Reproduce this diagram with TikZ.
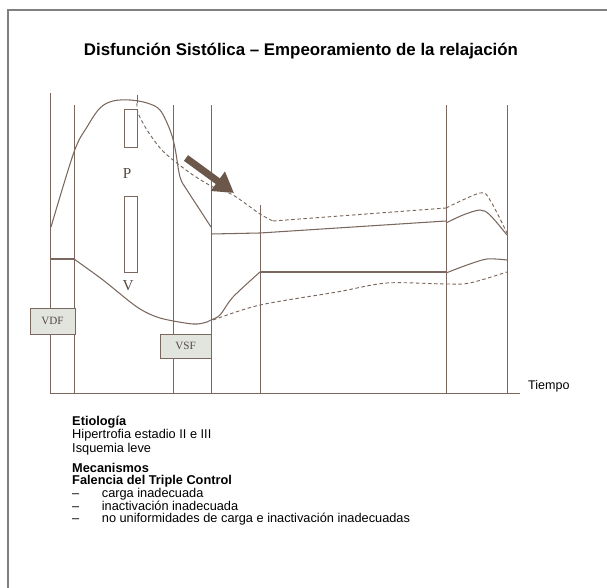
\documentclass[tikz,border=0pt]{standalone}
\usepackage{fontspec}
\setmainfont{Liberation Sans}
\newfontfamily\timesfont{Liberation Serif}
\usepackage{tikz}
\usetikzlibrary{positioning}
\usetikzlibrary{arrows.meta}

\definecolor{LineBrown}{RGB}{122,104,94}
\definecolor{ArrowBrown}{RGB}{108,88,74}
\definecolor{BoxGray}{RGB}{226,228,222}
\definecolor{FrameGray}{RGB}{128,128,128}

\begin{document}
\begin{tikzpicture}[x=0.03cm, y=-0.03cm,
	guide/.style={draw=LineBrown, line width=0.8pt},
	curve/.style={draw=LineBrown, line width=0.9pt},
	dashcurve/.style={draw=LineBrown, line width=0.8pt, dash pattern=on 3pt off 2.2pt},
	valuebox/.style={draw=LineBrown, fill=BoxGray, line width=0.8pt, inner sep=0pt,
		font=\timesfont\fontsize{9.5}{9.5}\selectfont, text=LineBrown!70!black},
	serifmark/.style={font=\timesfont\fontsize{13}{13}\selectfont, text=LineBrown!70!black, inner sep=0pt},
	bodytext/.style={align=left, inner sep=0pt, anchor=base west},
	]
	\useasboundingbox (0,0) rectangle (607,588);
	
	% ---------------------
	% Frame & Title
	\draw[FrameGray, line width=1.2pt] (8,588) -- (8,10) -- (607,10);
	
	\node[font=\bfseries\fontsize{14.4}{16}\selectfont, anchor=base, inner sep=0pt] (Title) at (301,55)
		{Disfunción Sistólica – Empeoramiento de la relajación};
	
	% ---------------------
	% Time axis & phase lines
	\coordinate (AxisStart) at (50,393);
	\coordinate (AxisEnd)   at (520,393);
	\draw[guide] (AxisStart) -- (AxisEnd);
	
	\foreach \x/\top in {50/93, 74/105, 173/105, 211/105, 260/205, 446/105, 507/105}
		\draw[guide] (\x,\top) -- (\x,393);
	
	\node[font=\fontsize{10.7}{12}\selectfont, anchor=base west, inner sep=0pt] (Tiempo) at (528,389) {Tiempo};
	
	% ---------------------
	% Pressure (solid & dashed)
	\draw[curve] plot[smooth, tension=0.55] coordinates {(51,227) (74,152) (87,127) (100,108) (113,101)
		(130,100) (147,103) (160,110) (170,130) (175,148) (180,177) (187,190) (200,210) (211,227)};
	\draw[curve] (211,234) -- (260,233) -- (446,221);
	\draw[curve] plot[smooth] coordinates {(446,223) (463,215) (480,210) (490,215) (507,235)};
	
	\draw[guide] (137,95) -- (137,103);
	\draw[dashcurve] plot[smooth] coordinates {(137,103) (138,113) (147,130) (160,148) (173,160)
		(193,175) (213,187) (233,195) (260,214) (273,221)};
	\draw[dashcurve] (273,221) -- (446,208);
	\draw[dashcurve] plot[smooth] coordinates {(446,208) (480,193) (490,200) (507,233)};
	
	% ---------------------
	% Volume (solid & dashed)
	\draw[curve] (51,259) -- (74,259);
	\draw[curve] plot[smooth] coordinates {(74,259) (103,280) (137,307) (160,318) (193,324)
		(207,322) (211,320) (220,315) (233,297) (260,272)};
	\draw[curve] (260,272) -- (446,272);
	\draw[curve] plot[smooth] coordinates {(446,273) (467,265) (487,259) (507,260)};
	
	\draw[dashcurve] plot[smooth] coordinates {(213,320) (260,305) (337,292) (387,283)
		(446,284) (470,283) (507,272)};
	
	% ---------------------
	% P / V bars
	\draw[guide] (124,109) rectangle (137,147);
	\draw[guide] (124,196) rectangle (137,272);
	\node[serifmark] (P) at (127,174) {P};
	\node[serifmark] (V) at (128,286) {V};
	
	% ---------------------
	% End-diastolic / end-systolic boxes
	\node[valuebox, minimum width=1.35cm, minimum height=0.78cm] (VDF) at (52.5,321) {VDF};
	\node[valuebox, minimum width=1.53cm, minimum height=0.72cm] (VSF) at (185.5,346) {VSF};
	
	% ---------------------
	% Relaxation arrow
	\coordinate (ArrowTail) at (186,158);
	\coordinate (ArrowTip)  at (234,193);
	\draw[ArrowBrown, line width=6pt, -{Triangle[length=0.6cm, width=0.68cm]}] (ArrowTail) -- (ArrowTip);
	
	% ---------------------
	% Notes (anchored on the baseline of the last line)
	\node[bodytext, font=\fontsize{10.9}{11.1}\selectfont] (Etiologia) at (72,452)
		{\textbf{Etiología}\\Hipertrofia estadio II e III\\Isquemia leve};
	\node[bodytext, font=\fontsize{10.9}{9.7}\selectfont] (Mecanismos) at (72,522)
		{\textbf{Mecanismos}\\\textbf{Falencia del Triple Control}\\
		\makebox[0.89cm][l]{–}carga inadecuada\\
		\makebox[0.89cm][l]{–}inactivación inadecuada\\
		\makebox[0.89cm][l]{–}no uniformidades de carga e inactivación inadecuadas};
	
\end{tikzpicture}
\end{document}
